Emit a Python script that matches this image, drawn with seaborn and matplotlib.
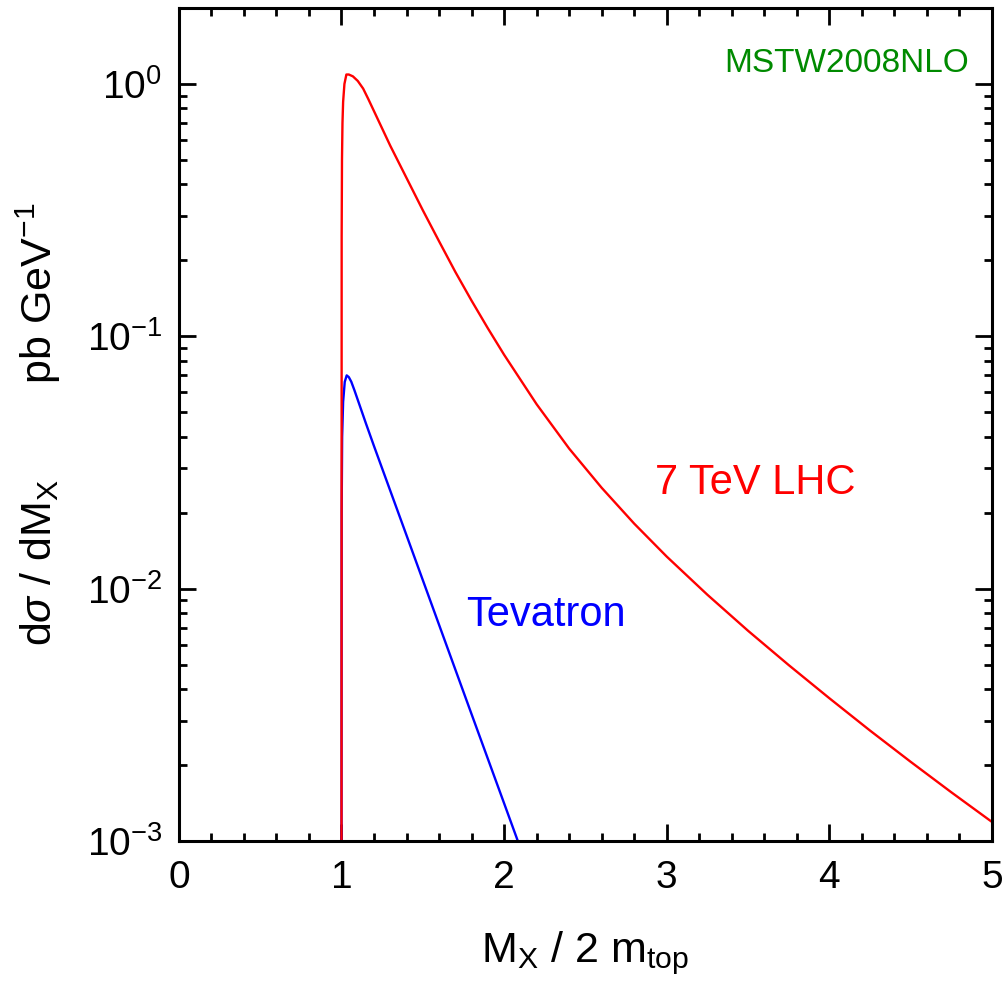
import numpy as np
import pandas as pd
import matplotlib
matplotlib.use("Agg")
import matplotlib.pyplot as plt
import matplotlib.ticker as mticker
import seaborn as sns

# ---- data ----
lhc_x = [1.000, 1.001, 1.003, 1.006, 1.010, 1.018, 1.030, 1.045, 1.070, 1.100,
         1.133, 1.165, 1.200, 1.300, 1.400, 1.500, 1.600, 1.700, 1.800, 1.900,
         2.000, 2.200, 2.400, 2.600, 2.800, 3.000, 3.250, 3.500, 3.750, 4.000,
         4.250, 4.500, 4.750, 5.000]
lhc_y = [0.0008, 0.25, 0.50, 0.70, 0.85, 1.00, 1.09, 1.09, 1.072, 1.028,
         0.959, 0.871, 0.780, 0.569, 0.424, 0.316, 0.238, 0.180, 0.1384, 0.1076,
         0.0845, 0.0538, 0.0359, 0.0251, 0.0181, 0.0134, 0.00946, 0.00681, 0.00498, 0.00368,
         0.00274, 0.00206, 0.00156, 0.00119]

tev_x = [1.000, 1.001, 1.004, 1.010, 1.020, 1.032, 1.045, 1.060, 1.080, 1.100,
         1.150, 1.200, 1.400, 1.600, 1.800, 2.000, 2.100]
tev_y = [0.0008, 0.02, 0.04, 0.055, 0.066, 0.070, 0.0689, 0.0661, 0.0610, 0.0560,
         0.0452, 0.0367, 0.01626, 0.00719, 0.00318, 0.00141, 0.000938]

x_ticks = [0, 1, 2, 3, 4, 5]
y_ticks = [1e-3, 1e-2, 1e-1, 1e0]

sns.set_style("ticks")
plt.rcParams["font.family"] = ["Liberation Sans", "DejaVu Sans"]
plt.rcParams["mathtext.fontset"] = "custom"
plt.rcParams["mathtext.rm"] = "Liberation Sans"
plt.rcParams["mathtext.it"] = "Liberation Sans:italic"
plt.rcParams["mathtext.sf"] = "Liberation Sans"
plt.rcParams["mathtext.bf"] = "Liberation Sans:bold"
plt.rcParams["axes.unicode_minus"] = False
for k in ["text.color", "axes.labelcolor", "xtick.color", "ytick.color", "axes.edgecolor"]:
    plt.rcParams[k] = "black"

fig = plt.figure(figsize=(10.05, 9.88), dpi=100)
ax = fig.add_axes([0.178, 0.1488, 0.809, 0.8431])

df_tev = pd.DataFrame({"x": tev_x, "y": tev_y})
df_lhc = pd.DataFrame({"x": lhc_x, "y": lhc_y})
sns.lineplot(data=df_tev, x="x", y="y", ax=ax, color="#0000ff", lw=1.7,
             estimator=None, sort=False)
sns.lineplot(data=df_lhc, x="x", y="y", ax=ax, color="#ff0000", lw=1.7,
             estimator=None, sort=False)

ax.set_yscale("log")
ax.set_xlim(0, 5)
ax.set_ylim(1e-3, 2.0)
ax.set_xticks(x_ticks)
ax.set_yticks(y_ticks)
ax.xaxis.set_minor_locator(mticker.MultipleLocator(0.2))
ax.yaxis.set_minor_locator(mticker.LogLocator(base=10, subs=np.arange(2, 10)))
ax.yaxis.set_major_formatter(mticker.LogFormatterMathtext())
ax.yaxis.set_minor_formatter(mticker.NullFormatter())

for s in ax.spines.values():
    s.set_linewidth(2.2)
    s.set_visible(True)
    s.set_color("black")
ax.tick_params(which="both", direction="in", top=True, right=True, width=2.0,
               color="black", labelcolor="black")
ax.tick_params(which="major", length=12)
ax.tick_params(which="minor", length=6)
ax.tick_params(axis="x", which="major", labelsize=28, pad=14)
ax.tick_params(axis="y", which="major", labelsize=28, pad=12)

ax.set_xlabel(r"M$_{\rm X}$ / 2 m$_{\rm top}$", fontsize=31, labelpad=24)
ax.set_ylabel(r"d$\sigma$ / dM$_{\rm X}$        pb GeV$^{-1}$", fontsize=31, labelpad=17)

ax.text(4.86, 1.20, "MSTW2008NLO", color="#008a00", fontsize=24,
        ha="right", va="center")
ax.text(2.926, 0.0262, "7 TeV LHC", color="#ff0000", fontsize=30,
        ha="left", va="center")
ax.text(1.768, 0.00785, "Tevatron", color="#0000ff", fontsize=30,
        ha="left", va="center")

fig.savefig("out.png", dpi=100)
